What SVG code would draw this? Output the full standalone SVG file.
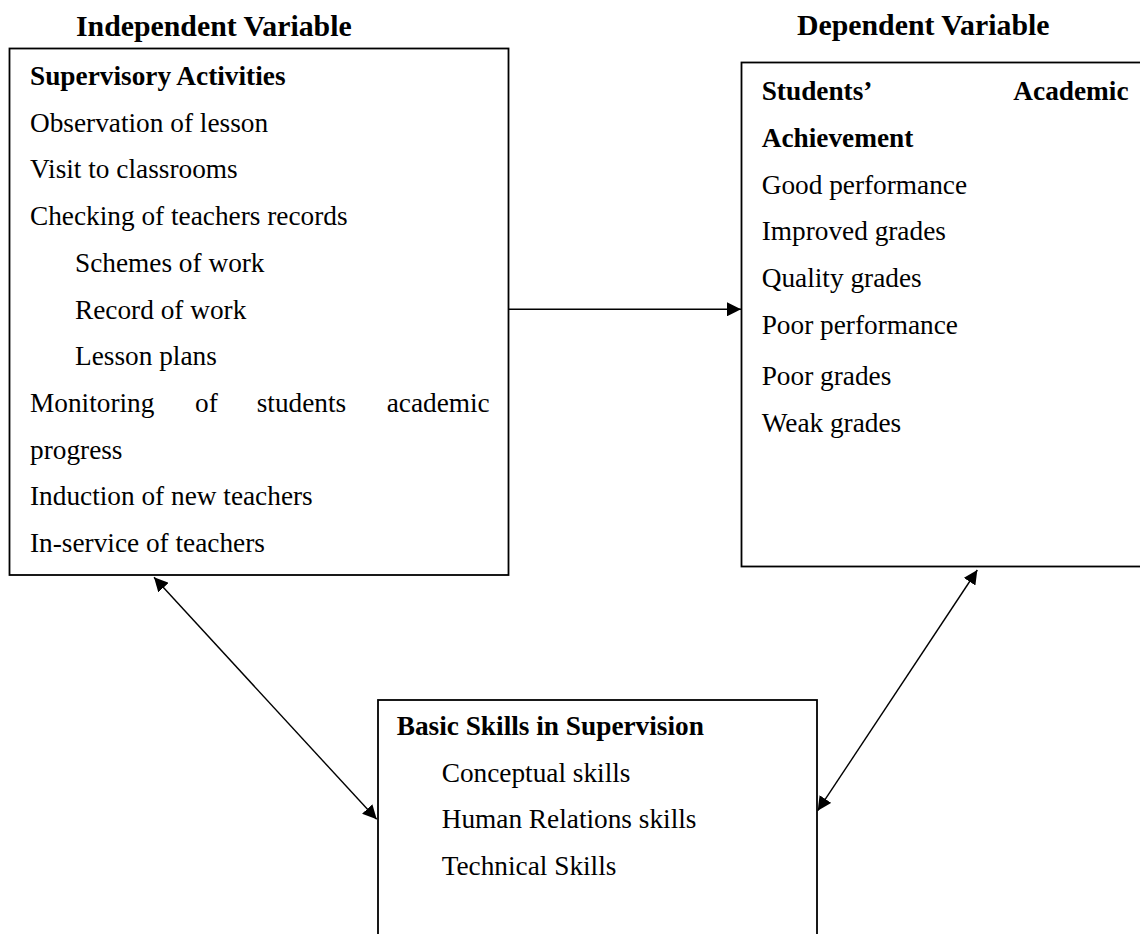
<svg xmlns="http://www.w3.org/2000/svg" width="1140" height="934" viewBox="0 0 1140 934">
<style>
.box{fill:#fff;stroke:#000;stroke-width:1.8}
.t{font-family:"Liberation Serif","Times New Roman",serif;font-size:27.3px;fill:#000}
.b{font-weight:bold}
.h{font-family:"Liberation Serif","Times New Roman",serif;font-size:29.8px;font-weight:bold;fill:#000}
.c{stroke:#000;stroke-width:1.4;fill:none}
</style>
<defs>
<marker id="ah" viewBox="0 0 14 14" refX="14" refY="7" markerWidth="14" markerHeight="14" markerUnits="userSpaceOnUse" orient="auto-start-reverse">
<path d="M0,0 L14,7 L0,14 z" fill="#000"/>
</marker>
</defs>
<rect width="1140" height="934" fill="#fff"/>
<text class="h" x="76" y="36">Independent Variable</text>
<text class="h" x="797" y="35">Dependent Variable</text>
<g id="connectors">
<line class="c" x1="509" y1="309.3" x2="741" y2="309.3" marker-end="url(#ah)"/>
<line class="c" x1="154" y1="577.3" x2="376.7" y2="819.3" marker-start="url(#ah)" marker-end="url(#ah)"/>
<line class="c" x1="977.3" y1="570" x2="817.7" y2="810.7" marker-start="url(#ah)" marker-end="url(#ah)"/>
</g>
<g id="independent">
<rect class="box" x="9.5" y="48.5" width="499" height="526.5"/>
<text class="t b" x="30" y="85">Supervisory Activities</text>
<text class="t" x="30" y="131.7">Observation of lesson</text>
<text class="t" x="30" y="178.4">Visit to classrooms</text>
<text class="t" x="30" y="225.1">Checking of teachers records</text>
<text class="t" x="75" y="271.8">Schemes of work</text>
<text class="t" x="75" y="318.5">Record of work</text>
<text class="t" x="75" y="365.2">Lesson plans</text>
<text class="t" y="411.9"><tspan x="30">Monitoring</tspan><tspan x="195">of</tspan><tspan x="256.7">students</tspan><tspan x="386.7">academic</tspan></text>
<text class="t" x="30" y="458.6">progress</text>
<text class="t" x="30" y="505.3">Induction of new teachers</text>
<text class="t" x="30" y="552">In-service of teachers</text>
</g>
<g id="dependent">
<rect class="box" x="741.5" y="62.5" width="410" height="504"/>
<text class="t b" y="100"><tspan x="761.7">Students’</tspan><tspan x="1013.3">Academic</tspan></text>
<text class="t b" x="761.7" y="147">Achievement</text>
<text class="t" x="761.7" y="193.5">Good performance</text>
<text class="t" x="761.7" y="240.3">Improved grades</text>
<text class="t" x="761.7" y="287">Quality grades</text>
<text class="t" x="761.7" y="334">Poor performance</text>
<text class="t" x="761.7" y="384.5">Poor grades</text>
<text class="t" x="761.7" y="431.5">Weak grades</text>
</g>
<g id="skills">
<rect class="box" x="378" y="700" width="439" height="250"/>
<text class="t b" x="396.7" y="735">Basic Skills in Supervision</text>
<text class="t" x="441.7" y="781.7">Conceptual skills</text>
<text class="t" x="441.7" y="828.3">Human Relations skills</text>
<text class="t" x="441.7" y="875">Technical Skills</text>
</g>
</svg>
